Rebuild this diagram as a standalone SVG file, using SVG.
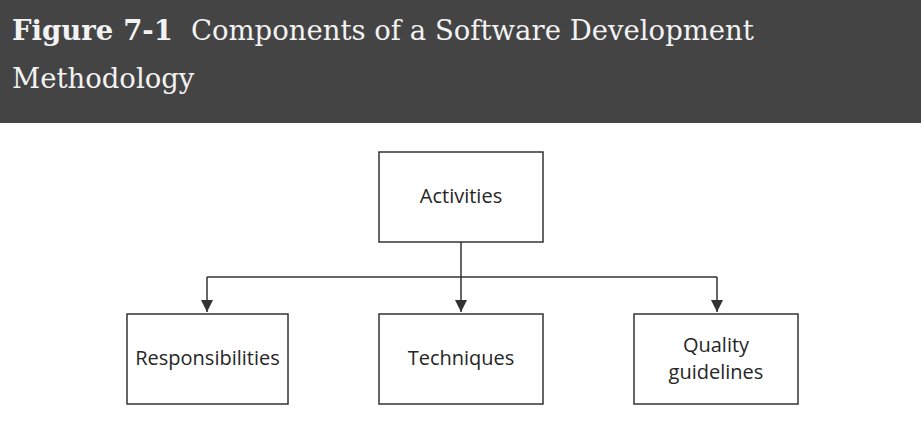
<svg xmlns="http://www.w3.org/2000/svg" width="921" height="421" viewBox="0 0 921 421">
  <style>
    .title { font-family: "DejaVu Serif", "Liberation Serif", serif; font-size: 27.5px; fill: #f2f2f2; }
    .bold { font-weight: bold; }
    .box { fill: #ffffff; stroke: #333333; stroke-width: 1.5; }
    .label { font-family: "Open Sans", "Liberation Sans", sans-serif; font-size: 20px; fill: #262626; text-anchor: middle; }
    .wire { fill: none; stroke: #333333; stroke-width: 1.5; }
  </style>
  <defs>
    <marker id="arrow" viewBox="0 0 12 12" refX="12" refY="6" markerWidth="12" markerHeight="12" markerUnits="userSpaceOnUse" orient="auto">
      <path d="M0,0 L12,6 L0,12 Z" fill="#333333"/>
    </marker>
  </defs>

  <rect width="921" height="421" fill="#ffffff"/>

  <!-- caption band -->
  <g id="caption">
    <rect x="0" y="0" width="921" height="123" fill="#444444"/>
    <text class="title" x="12" y="40"><tspan class="bold">Figure</tspan><tspan class="bold" dx="10">7-1</tspan><tspan dx="18">Components of a Software Development</tspan></text>
    <text class="title" x="12" y="88">Methodology</text>
  </g>

  <!-- connectors -->
  <g id="connectors">
    <path class="wire" d="M461,242 V277"/>
    <path class="wire" d="M207,277 H717"/>
    <path class="wire" d="M207,277 V312" marker-end="url(#arrow)"/>
    <path class="wire" d="M461,277 V312" marker-end="url(#arrow)"/>
    <path class="wire" d="M717,277 V312" marker-end="url(#arrow)"/>
  </g>

  <g id="activities">
    <rect class="box" x="379" y="152" width="164" height="90"/>
    <text class="label" x="461" y="203">Activities</text>
  </g>

  <g id="responsibilities">
    <rect class="box" x="127" y="314" width="161" height="90"/>
    <text class="label" x="207.5" y="365">Responsibilities</text>
  </g>

  <g id="techniques">
    <rect class="box" x="379" y="314" width="164" height="90"/>
    <text class="label" x="461" y="365">Techniques</text>
  </g>

  <g id="quality">
    <rect class="box" x="634" y="314" width="164" height="90"/>
    <text class="label" x="716" y="352">Quality</text>
    <text class="label" x="716" y="379">guidelines</text>
  </g>
</svg>
